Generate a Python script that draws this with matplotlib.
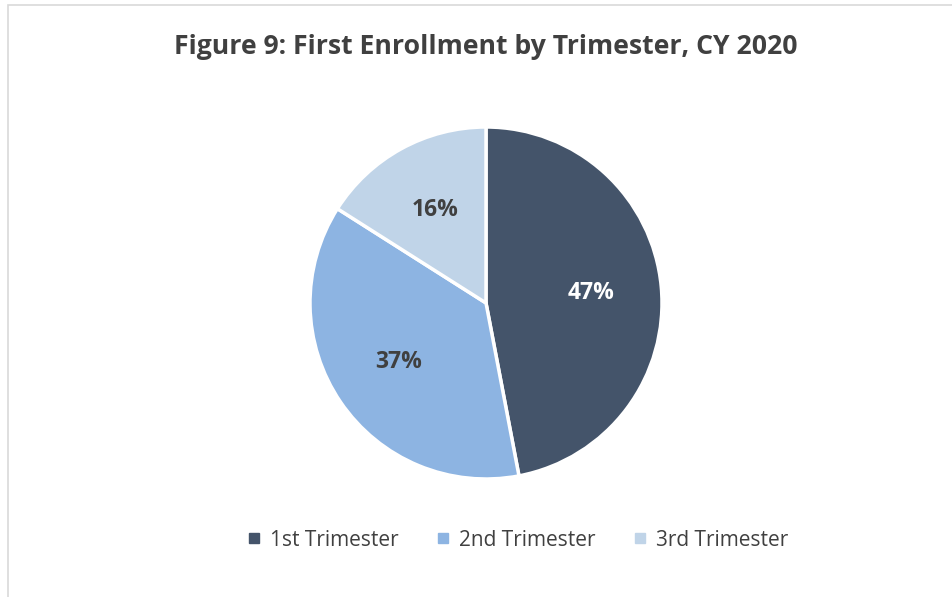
import matplotlib
matplotlib.use("Agg")
import matplotlib.pyplot as plt
from matplotlib.patches import Rectangle
from matplotlib.lines import Line2D

title = "Figure 9: First Enrollment by Trimester, CY 2020"
categories = ["1st Trimester", "2nd Trimester", "3rd Trimester"]
shares = [47, 37, 16]
colors = ["#44546A", "#8DB4E2", "#C0D4E8"]
label_colors = ["white", "#404040", "#404040"]

plt.rcParams["font.family"] = ["Open Sans", "DejaVu Sans"]

W, H = 952, 597
fig = plt.figure(figsize=(W / 100, H / 100), dpi=100)

# chart frame (left and top edges visible)
fig.patches.append(Rectangle((8 / W, -0.1), 1.2, 1.1 - 5 / H, transform=fig.transFigure,
                             fill=False, edgecolor="#D9D9D9", linewidth=1.2))

cx, cy, r = 486, 303, 176
ax = fig.add_axes([(cx - r) / W, (H - cy - r) / H, 2 * r / W, 2 * r / H])
wedges, texts, autotexts = ax.pie(
    shares, colors=colors, startangle=90, counterclock=False,
    autopct=lambda p: f"{p:.0f}%", pctdistance=0.6, radius=1,
    wedgeprops=dict(edgecolor="white", linewidth=2.5),
    textprops=dict(fontsize=16.5, fontweight="bold"))
for t, c in zip(autotexts, label_colors):
    t.set_color(c)
ax.set_xlim(-1.0, 1.0)
ax.set_ylim(-1.0, 1.0)
ax.set_aspect("equal")
ax.axis("off")

fig.text(cx / W, 1 - 47 / H, title, ha="center", va="center",
         fontsize=19.2, fontweight="bold", color="#404040")

handles = [Line2D([], [], marker="s", linestyle="none", markersize=6.5,
                  markerfacecolor=c, markeredgecolor=c) for c in colors]
leg = fig.legend(handles, categories, loc="center", bbox_to_anchor=(517 / W, 1 - 540 / H),
                 ncol=3, frameon=False, fontsize=15, handlelength=0.8,
                 handletextpad=0.35, columnspacing=1.75)
for t in leg.get_texts():
    t.set_color("#404040")

fig.savefig("out.png", dpi=100, facecolor="white")
